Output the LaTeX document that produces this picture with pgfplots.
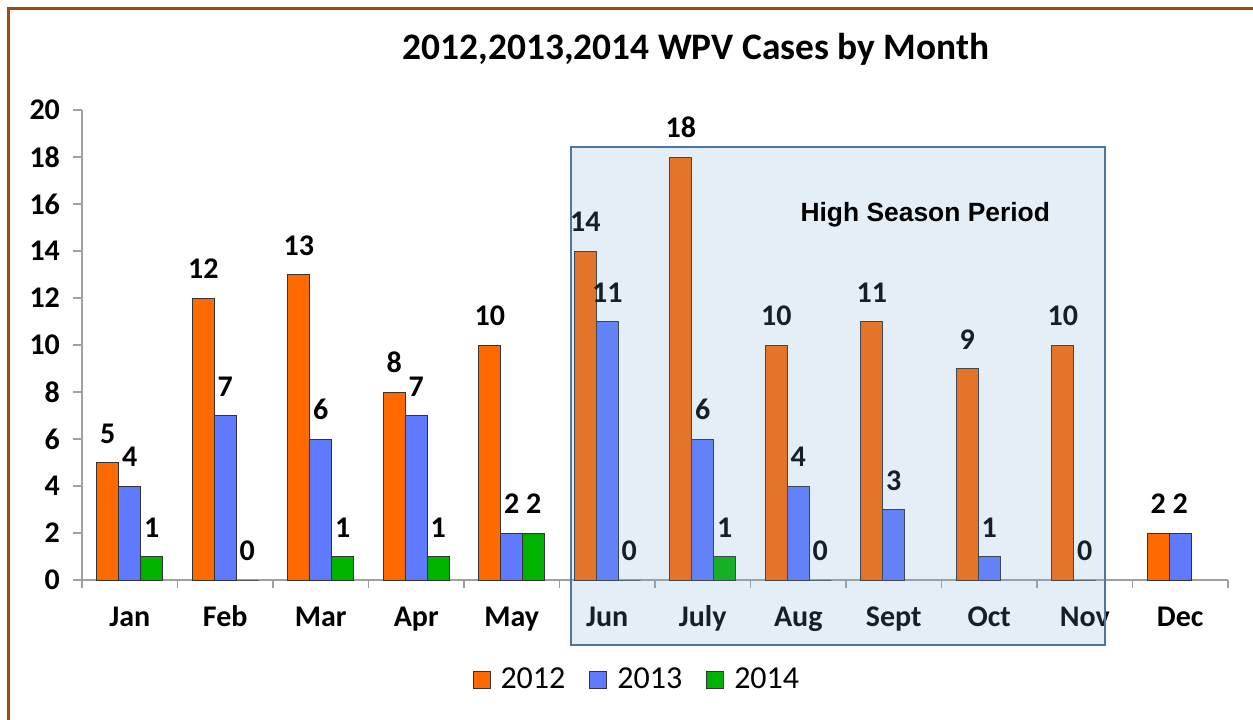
\documentclass[border=0pt]{standalone}
\usepackage{pgfplots}
\pgfplotsset{compat=1.18}
\usepackage{fontspec}
\setmainfont{Carlito}
\newfontfamily\arialfont{Liberation Sans}
\definecolor{c12}{RGB}{255,106,0}
\definecolor{c13}{RGB}{96,122,255}
\definecolor{c14}{RGB}{0,178,0}
\definecolor{framec}{RGB}{158,75,15}
\definecolor{boxedge}{RGB}{74,118,168}
\definecolor{boxfill}{RGB}{113,166,213}
\definecolor{axgray}{RGB}{160,160,160}
\begin{document}
\begin{tikzpicture}
\useasboundingbox (0,0) rectangle (626.5pt,359.5pt);
\draw[framec, line width=1.5pt] (4pt,-20pt) -- (4pt,355pt) -- (650pt,355pt);
\node[font=\bfseries\fontsize{18.7}{20}\selectfont] at (348pt,335pt) {2012,2013,2014 WPV Cases by Month};
\begin{axis}[
  at={(41pt,69.5pt)}, anchor=south west,
  scale only axis, width=573pt, height=235pt,
  ybar=0pt, bar width=11pt,
  xmin=-0.5, xmax=11.5, ymin=0, ymax=20,
  ytick={0,2,...,20},
  xtick={0,...,11},
  xticklabels={Jan,Feb,Mar,Apr,May,Jun,July,Aug,Sept,Oct,Nov,Dec},
  minor xtick={-0.5,0.5,...,11.5},
  axis lines*=left,
  axis line style={axgray, line width=0.75pt},
  tick style={axgray, line width=0.75pt},
  major x tick style={draw=none},
  minor tick length=4pt,
  major tick length=4.5pt,
  tick align=outside,
  /pgf/number format/assume math mode=true,
  tick label style={font=\bfseries\fontsize{15}{17}\selectfont, black},
  yticklabel style={xshift=-3pt},
  xticklabel style={text height=10pt, text depth=3pt, yshift=-5pt},
  nodes near coords,
  every node near coord/.append style={font=\bfseries\fontsize{15}{17}\selectfont, black, yshift=6pt},
  legend columns=3,
  legend style={draw=none, fill=none, at={(0.485,-0.2128)}, anchor=center,
    font=\fontsize{16}{18}\selectfont,
    /tikz/every odd column/.append style={column sep=3pt},
    /tikz/every even column/.append style={column sep=10pt}},
  legend image code/.code={\draw[#1, draw=black!80, line width=0.5pt] (0pt,-4.25pt) rectangle (8.5pt,4.25pt);},
  clip=false,
]
\addplot[fill=c12, draw=black!80, line width=0.5pt] coordinates {(0,5)(1,12)(2,13)(3,8)(4,10)(5,14)(6,18)(7,10)(8,11)(9,9)(10,10)(11,2)};
\addplot[fill=c13, draw=black!80, line width=0.5pt] coordinates {(0,4)(1,7)(2,6)(3,7)(4,2)(5,11)(6,6)(7,4)(8,3)(9,1)(10,0)(11,2)};
\addplot[fill=c14, draw=black!80, line width=0.5pt] coordinates {(0,1)(1,0)(2,1)(3,1)(4,2)(5,0)(6,1)(7,0)};
\legend{2012,2013,2014}
\coordinate (bl) at (axis cs:4.62,-2.77);
\coordinate (tr) at (axis cs:10.21,18.43);
\coordinate (hsp) at (axis cs:8.33,15.55);
\end{axis}
\fill[boxfill, fill opacity=0.19] (bl) rectangle (tr);
\draw[boxedge, line width=1pt] (bl) rectangle (tr);
\node[font=\arialfont\bfseries\fontsize{13.2}{15}\selectfont] at (hsp) {High Season Period};
\end{tikzpicture}
\end{document}
